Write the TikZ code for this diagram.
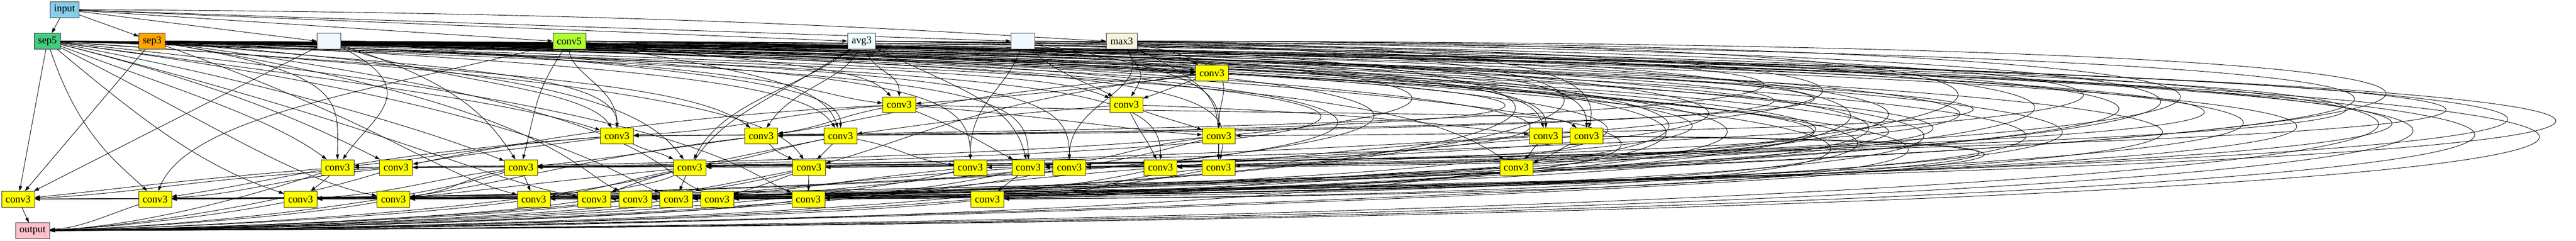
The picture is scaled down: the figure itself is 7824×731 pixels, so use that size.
\documentclass[tikz,border=0pt]{standalone}
\usepackage{fontspec}
\setmainfont{Liberation Serif}
\usetikzlibrary{shapes, arrows.meta, backgrounds}
\definecolor{cinput}{HTML}{87CEEB}
\definecolor{csepfive}{HTML}{43CD80}
\definecolor{csepthree}{HTML}{FFA500}
\definecolor{cconvfive}{HTML}{ADFF2F}
\definecolor{cavg}{HTML}{F0FFFF}
\definecolor{cskip}{HTML}{F0F8FF}
\definecolor{cmax}{HTML}{F5F5DC}
\definecolor{cconv}{HTML}{FFFF00}
\definecolor{coutput}{HTML}{FFC0CB}
\tikzstyle{box} = [rectangle, 
draw=black!80, 
line width=0.3pt, 
minimum height=0.48cm, 
inner sep=0pt, 
text centered, 
font=\fontsize{8.8}{10}\selectfont]
\tikzstyle{conv} = [box, minimum width=1cm, fill=cconv]
\tikzstyle{inbox} = [box, minimum width=0.88cm, fill=cinput]
\tikzstyle{outbox} = [box, minimum width=1.04cm, fill=coutput]
\tikzstyle{sepfive} = [box, minimum width=0.8cm, fill=csepfive]
\tikzstyle{septhree} = [box, minimum width=0.8cm, fill=csepthree]
\tikzstyle{convfive} = [box, minimum width=1cm, fill=cconvfive]
\tikzstyle{avgpool} = [box, minimum width=0.85cm, fill=cavg]
\tikzstyle{skip} = [box, minimum width=0.72cm, fill=cskip]
\tikzstyle{maxpool} = [box, minimum width=0.93cm, fill=cmax]
\tikzstyle{arrow} = [line width=0.4pt, -{Triangle[length=1.5mm, width=1mm]}]
\begin{document}
\begin{tikzpicture}[x=0.01cm, y=-0.01cm]
\useasboundingbox (0,0) rectangle (7824,731);

% input and first operations
\node (in) [inbox] at (196,29) {input};
\node (sepf) [sepfive] at (144,125) {sep5};
\node (sept) [septhree] at (462,125) {sep3};
\node (ida) [skip] at (999,125) {};
\node (convf) [convfive] at (1729,125) {conv5};
\node (avg) [avgpool] at (2617,125) {avg3};
\node (idb) [skip] at (3107,125) {};
\node (maxp) [maxpool] at (3407,125) {max3};

% conv3 layers
\node (c2a) [conv] at (3681,222) {conv3};
\node (c3a) [conv] at (2731,318) {conv3};
\node (c3b) [conv] at (3421,318) {conv3};
\node (c4a) [conv] at (1874,413) {conv3};
\node (c4b) [conv] at (2312,413) {conv3};
\node (c4c) [conv] at (2553,413) {conv3};
\node (c4d) [conv] at (3702,413) {conv3};
\node (c4e) [conv] at (4695,413) {conv3};
\node (c4f) [conv] at (4819,413) {conv3};
\node (c5a) [conv] at (1025,509) {conv3};
\node (c5b) [conv] at (1203,509) {conv3};
\node (c5c) [conv] at (1582,509) {conv3};
\node (c5d) [conv] at (2095,509) {conv3};
\node (c5e) [conv] at (2457,509) {conv3};
\node (c5f) [conv] at (2947,509) {conv3};
\node (c5g) [conv] at (3123,509) {conv3};
\node (c5h) [conv] at (3248,509) {conv3};
\node (c5i) [conv] at (3525,509) {conv3};
\node (c5j) [conv] at (3701,509) {conv3};
\node (c5k) [conv] at (4605,509) {conv3};
\node (c6a) [conv] at (55,605) {conv3};
\node (c6b) [conv] at (471,605) {conv3};
\node (c6c) [conv] at (913,605) {conv3};
\node (c6d) [conv] at (1195,605) {conv3};
\node (c6e) [conv] at (1621,605) {conv3};
\node (c6f) [conv] at (1805,605) {conv3};
\node (c6g) [conv] at (1930,605) {conv3};
\node (c6h) [conv] at (2054,605) {conv3};
\node (c6i) [conv] at (2178,605) {conv3};
\node (c6j) [conv] at (2455,605) {conv3};
\node (c6k) [conv] at (2999,605) {conv3};
\node (out) [outbox] at (99,701) {output};

\begin{scope}[on background layer]
% from input
\draw [arrow] (in) -- (sepf);
\draw [arrow] (in) -- (sept);
\draw [arrow] (in) -- (ida.west);
\draw [arrow] (in) -- (convf.west);
\draw [arrow] (in) -- (avg.west);
\draw [arrow] (in) -- (idb.west);
\draw [arrow] (in) .. controls +(2000,10) and +(-400,-20) .. (maxp.west);

% second and third layer
\draw [arrow] (maxp) to[out=-30, in=150] (c2a);
\draw [arrow] (idb) to[out=-15, in=170] (c2a);
\draw [arrow] (sepf) .. controls +(2800,50) and +(-400,-10) .. (c2a);
\draw [arrow] (sept) .. controls +(2600,45) and +(-400,0) .. (c2a);
\draw [arrow] (c2a) .. controls +(-300,40) and +(300,-20) .. (c3a);
\draw [arrow] (avg) .. controls +(40,100) and +(0,-100) .. (c3a);
\draw [arrow] (sept) .. controls +(2000,60) and +(-300,-30) .. (c3a);
\draw [arrow] (convf) .. controls +(800,80) and +(-100,-100) .. (c3a);
\draw [arrow] (c2a) -- (c3b);
\draw [arrow] (maxp) .. controls +(60,100) and +(60,-100) .. (c3b);
\draw [arrow] (idb) .. controls +(100,100) and +(-100,-60) .. (c3b);
\draw [arrow] (sepf) .. controls +(2900,80) and +(-200,-80) .. (c3b);

% fourth layer
\draw [arrow] (c3a) .. controls +(-400,30) and +(400,-20) .. (c4a);
\draw [arrow] (sepf) .. controls +(900,120) and +(-300,-100) .. (c4a);
\draw [arrow] (sept) .. controls +(800,80) and +(0,-200) .. (c4a);
\draw [arrow] (convf) .. controls +(0,100) and +(0,-150) .. (c4a);
\draw [arrow] (ida) .. controls +(300,120) and +(-100,-150) .. (c4a);
\draw [arrow] (c3a) .. controls +(-200,40) and +(200,-30) .. (c4b);
\draw [arrow] (sepf) .. controls +(1500,100) and +(-200,-150) .. (c4b);
\draw [arrow] (avg) .. controls +(-50,120) and +(100,-150) .. (c4b);
\draw [arrow] (c2a) .. controls +(-800,60) and +(300,-40) .. (c4b);
\draw [arrow] (c3b) .. controls +(-500,40) and +(300,-40) .. (c4c);
\draw [arrow] (convf) .. controls +(600,100) and +(-50,-150) .. (c4c);
\draw [arrow] (sept) .. controls +(1600,80) and +(-100,-150) .. (c4c);
\draw [arrow] (ida) .. controls +(1200,90) and +(0,-150) .. (c4c);
\draw [arrow] (c3b) to[out=-20, in=160] (c4d);
\draw [arrow] (maxp) .. controls +(400,80) and +(0,-150) .. (c4d);
\draw [arrow] (c3a) .. controls +(500,40) and +(-300,-20) .. (c4d);
\draw [arrow] (idb) .. controls +(500,90) and +(0,-150) .. (c4d);
\draw [arrow] (c3b) .. controls +(800,30) and +(-300,-30) .. (c4e);
\draw [arrow] (sepf) .. controls +(4000,60) and +(0,-180) .. (c4e);
\draw [arrow] (sept) .. controls +(3800,55) and +(-50,-180) .. (c4e);
\draw [arrow] (c3a) .. controls +(1500,40) and +(-100,-80) .. (c4f);
\draw [arrow] (convf) .. controls +(2700,50) and +(0,-200) .. (c4f);
\draw [arrow] (maxp) .. controls +(1200,20) and +(50,-200) .. (c4f);

% fifth layer
\draw [arrow] (c4a) .. controls +(-400,30) and +(300,-30) .. (c5a);
\draw [arrow] (sepf) .. controls +(400,150) and +(-200,-150) .. (c5a);
\draw [arrow] (ida) .. controls +(300,150) and +(100,-150) .. (c5a);
\draw [arrow] (sept) .. controls +(600,100) and +(0,-200) .. (c5a);
\draw [arrow] (c4a) .. controls +(-300,40) and +(200,-40) .. (c5b);
\draw [arrow] (sepf) .. controls +(600,150) and +(-200,-100) .. (c5b);
\draw [arrow] (c3a) .. controls +(-800,40) and +(300,-60) .. (c5b);
\draw [arrow] (c4b) .. controls +(-300,40) and +(300,-30) .. (c5c);
\draw [arrow] (sepf) .. controls +(800,150) and +(-200,-80) .. (c5c);
\draw [arrow] (convf) .. controls +(-100,150) and +(50,-200) .. (c5c);
\draw [arrow] (ida) .. controls +(400,130) and +(-100,-150) .. (c5c);
\draw [arrow] (c4a) .. controls +(100,50) and +(-100,-50) .. (c5d);
\draw [arrow] (c4c) .. controls +(-200,40) and +(200,-30) .. (c5d);
\draw [arrow] (sept) .. controls +(1200,100) and +(-150,-200) .. (c5d);
\draw [arrow] (avg) .. controls +(-200,150) and +(100,-200) .. (c5d);
\draw [arrow] (c4b) .. controls +(50,50) and +(-100,-50) .. (c5e);
\draw [arrow] (c4c) -- (c5e);
\draw [arrow] (sepf) .. controls +(1900,120) and +(-100,-150) .. (c5e);
\draw [arrow] (c2a) .. controls +(-700,80) and +(300,-80) .. (c5e);
\draw [arrow] (c4c) .. controls +(200,40) and +(-200,-30) .. (c5f);
\draw [arrow] (sept) .. controls +(2300,80) and +(0,-250) .. (c5f);
\draw [arrow] (idb) .. controls +(-50,150) and +(0,-200) .. (c5f);
\draw [arrow] (c4d) .. controls +(-300,40) and +(300,-30) .. (c5g);
\draw [arrow] (sepf) .. controls +(2800,90) and +(0,-250) .. (c5g);
\draw [arrow] (c3a) .. controls +(200,80) and +(-150,-80) .. (c5g);
\draw [arrow] (avg) .. controls +(300,150) and +(-50,-200) .. (c5g);
\draw [arrow] (c4d) .. controls +(-200,50) and +(200,-30) .. (c5h);
\draw [arrow] (sept) .. controls +(2600,90) and +(0,-250) .. (c5h);
\draw [arrow] (maxp) .. controls +(100,150) and +(0,-200) .. (c5h);
\draw [arrow] (c4e) .. controls +(-500,30) and +(400,-30) .. (c5i);
\draw [arrow] (sepf) .. controls +(3100,90) and +(0,-250) .. (c5i);
\draw [arrow] (c3b) .. controls +(50,100) and +(-50,-100) .. (c5i);
\draw [arrow] (c4d) -- (c5j);
\draw [arrow] (c4f) .. controls +(-500,30) and +(400,-30) .. (c5j);
\draw [arrow] (sept) .. controls +(3200,70) and +(50,-250) .. (c5j);
\draw [arrow] (maxp) .. controls +(300,150) and +(0,-200) .. (c5j);
\draw [arrow] (c4e) .. controls +(-50,50) and +(50,-50) .. (c5k);
\draw [arrow] (c4f) .. controls +(-100,50) and +(100,-30) .. (c5k);
\draw [arrow] (sepf) .. controls +(3700,80) and +(-300,-200) .. (c5k);

% sixth layer
\draw [arrow] (c5a) .. controls +(-500,40) and +(300,-30) .. (c6a);
\draw [arrow] (sepf) -- (c6a);
\draw [arrow] (sept) -- (c6a);
\draw [arrow] (ida) -- (c6a);
\draw [arrow] (c5b) .. controls +(-600,30) and +(400,-20) .. (c6a);
\draw [arrow] (c5b) .. controls +(-400,40) and +(300,-20) .. (c6b);
\draw [arrow] (sepf) .. controls +(100,300) and +(-100,-100) .. (c6b);
\draw [arrow] (convf) .. controls +(-600,150) and +(100,-250) .. (c6b);
\draw [arrow] (c4a) .. controls +(-800,60) and +(400,-60) .. (c6b);
\draw [arrow] (c5a) .. controls +(-50,50) and +(50,-40) .. (c6c);
\draw [arrow] (c5c) .. controls +(-300,40) and +(300,-20) .. (c6c);
\draw [arrow] (sepf) .. controls +(300,250) and +(-300,-100) .. (c6c);
\draw [arrow] (c5c) .. controls +(-200,40) and +(200,-30) .. (c6d);
\draw [arrow] (sepf) .. controls +(500,250) and +(-300,-60) .. (c6d);
\draw [arrow] (c4b) .. controls +(-500,60) and +(400,-60) .. (c6d);
\draw [arrow] (c5d) .. controls +(-400,40) and +(300,-30) .. (c6d);
\draw [arrow] (c5d) .. controls +(-200,40) and +(200,-30) .. (c6e);
\draw [arrow] (c5c) -- (c6e);
\draw [arrow] (sept) .. controls +(700,250) and +(-300,-80) .. (c6e);
\draw [arrow] (c5d) .. controls +(-100,50) and +(100,-40) .. (c6f);
\draw [arrow] (sepf) .. controls +(1000,250) and +(-300,-50) .. (c6f);
\draw [arrow] (c4c) .. controls +(-400,80) and +(200,-80) .. (c6f);
\draw [arrow] (c5e) .. controls +(-200,40) and +(200,-30) .. (c6g);
\draw [arrow] (c5g) .. controls +(-600,40) and +(500,-30) .. (c6g);
\draw [arrow] (sept) .. controls +(1200,200) and +(-200,-100) .. (c6g);
\draw [arrow] (c5f) .. controls +(-400,40) and +(400,-30) .. (c6h);
\draw [arrow] (sepf) .. controls +(1500,200) and +(-200,-80) .. (c6h);
\draw [arrow] (avg) .. controls +(-300,200) and +(100,-250) .. (c6h);
\draw [arrow] (c5e) .. controls +(-100,40) and +(100,-30) .. (c6i);
\draw [arrow] (c5h) .. controls +(-500,40) and +(400,-30) .. (c6i);
\draw [arrow] (sept) .. controls +(1500,200) and +(-200,-100) .. (c6i);
\draw [arrow] (c5e) -- (c6j);
\draw [arrow] (c5i) .. controls +(-500,40) and +(400,-30) .. (c6j);
\draw [arrow] (sepf) .. controls +(2000,200) and +(-200,-80) .. (c6j);
\draw [arrow] (c5g) -- (c6k);
\draw [arrow] (c5j) .. controls +(-400,40) and +(400,-20) .. (c6k);
\draw [arrow] (c5k) .. controls +(-800,30) and +(800,-20) .. (c6k);

% long edges round the right side
\draw [arrow] (sepf) .. controls +(10200,40) and +(10200,-30) .. (c6a);
\draw [arrow] (sept) .. controls +(9789,40) and +(9789,-30) .. (c6a);
\draw [arrow] (sepf) .. controls +(9087,40) and +(9087,-30) .. (c5a);
\draw [arrow] (sepf) .. controls +(9256,40) and +(9256,-30) .. (c6b);
\draw [arrow] (sept) .. controls +(8356,40) and +(8356,-30) .. (c5b);
\draw [arrow] (sepf) .. controls +(8561,40) and +(8561,-30) .. (c6c);
\draw [arrow] (ida) .. controls +(7604,40) and +(7604,-30) .. (c6d);
\draw [arrow] (sept) .. controls +(7504,40) and +(7504,-30) .. (c5c);
\draw [arrow] (sepf) .. controls +(7489,40) and +(7489,-30) .. (c6e);
\draw [arrow] (convf) .. controls +(7277,40) and +(7277,-30) .. (c6a);
\draw [arrow] (sept) .. controls +(6755,40) and +(6755,-30) .. (c6f);
\draw [arrow] (sepf) .. controls +(6684,40) and +(6684,-30) .. (c6g);
\draw [arrow] (ida) .. controls +(5804,40) and +(5804,-30) .. (c5d);
\draw [arrow] (sept) .. controls +(5989,40) and +(5989,-30) .. (c6h);
\draw [arrow] (sepf) .. controls +(10104,40) and +(10104,-30) .. (out);
\draw [arrow] (sept) .. controls +(9627,40) and +(9627,-30) .. (out);
\draw [arrow] (ida) .. controls +(9001,40) and +(9001,-30) .. (out);
\draw [arrow] (convf) .. controls +(8315,40) and +(8315,-30) .. (out);
\draw [arrow] (avg) .. controls +(4269,40) and +(4269,-30) .. (c6i);
\draw [arrow] (sepf) .. controls +(5533,40) and +(5533,-30) .. (c6j);
\draw [arrow] (sept) .. controls +(4759,40) and +(4759,-30) .. (c6k);
\draw [arrow] (convf) .. controls +(4076,40) and +(4076,-30) .. (c5e);
\draw [arrow] (maxp) .. controls +(6748,5) and +(6748,-30) .. (c6b);
\draw [arrow] (maxp) .. controls +(4564,5) and +(4564,-30) .. (c5f);
\draw [arrow] (idb) .. controls +(5853,40) and +(5853,-30) .. (c6c);
\draw [arrow] (avg) .. controls +(5592,40) and +(5592,-30) .. (c6d);
\draw [arrow] (maxp) .. controls +(4381,5) and +(4381,-30) .. (c6e);
\draw [arrow] (sepf) .. controls +(5221,40) and +(5221,-30) .. (c5g);
\draw [arrow] (sept) .. controls +(4475,40) and +(4475,-30) .. (c5i);
\draw [arrow] (ida) .. controls +(4980,40) and +(4980,-30) .. (c6g);
\draw [arrow] (convf) .. controls +(4211,40) and +(4211,-30) .. (c6h);
\draw [arrow] (avg) .. controls +(5787,40) and +(5787,-30) .. (c5b);
\draw [arrow] (idb) .. controls +(7092,40) and +(7092,-30) .. (c6a);
\draw [arrow] (sepf) .. controls +(5855,40) and +(5855,-30) .. (c4a);
\draw [arrow] (sept) .. controls +(5151,40) and +(5151,-30) .. (c4b);
\draw [arrow] (sepf) .. controls +(4368,45) and +(4368,-30) .. (c5b);
\draw [arrow] (sept) .. controls +(4778,45) and +(4778,-30) .. (c6b);
\draw [arrow] (ida) .. controls +(4553,45) and +(4553,-30) .. (c6b);
\draw [arrow] (convf) .. controls +(3831,45) and +(3831,-30) .. (c5a);
\draw [arrow] (sepf) .. controls +(4163,45) and +(4163,-30) .. (c4b);
\draw [arrow] (sept) .. controls +(3987,45) and +(3987,-30) .. (c5e);
\draw [arrow] (avg) .. controls +(3119,45) and +(3119,-30) .. (c6f);
\draw [arrow] (idb) .. controls +(2842,45) and +(2842,-30) .. (c6g);
\draw [arrow] (sepf) .. controls +(4785,45) and +(4785,-30) .. (c6i);
\draw [arrow] (sept) .. controls +(5362,45) and +(5362,-30) .. (c6d);
\draw [arrow] (ida) .. controls +(3969,45) and +(3969,-30) .. (c5f);
\draw [arrow] (convf) .. controls +(3904,45) and +(3904,-30) .. (c6j);
\draw [arrow] (sepf) .. controls +(4565,45) and +(4565,-30) .. (c5h);
\draw [arrow] (sept) .. controls +(4570,45) and +(4570,-30) .. (c5g);
\draw [arrow] (avg) .. controls +(4099,45) and +(4099,-30) .. (c4a);
\draw [arrow] (idb) .. controls +(4100,45) and +(4100,-30) .. (c5c);
\draw [arrow] (sepf) .. controls +(5237,45) and +(5237,-30) .. (c6k);
\draw [arrow] (sept) .. controls +(4664,45) and +(4664,-30) .. (c4d);
\draw [arrow] (ida) .. controls +(5787,45) and +(5787,-30) .. (c6e);
\draw [arrow] (convf) .. controls +(5839,45) and +(5839,-30) .. (c6c);
\draw [arrow] (c4e) .. controls +(3604,30) and +(3604,-20) .. (out);
\draw [arrow] (c4f) .. controls +(3388,30) and +(3388,-20) .. (out);

% into output
\draw [arrow] (c6a) -- (out);
\draw [arrow] (c6b) .. controls +(-150,50) and +(150,-10) .. (out);
\draw [arrow] (c6c) .. controls +(-250,50) and +(250,-10) .. (out);
\draw [arrow] (c6d) .. controls +(-300,55) and +(300,-8) .. (out);
\draw [arrow] (c6e) .. controls +(-400,55) and +(400,-8) .. (out);
\draw [arrow] (c6f) .. controls +(-400,60) and +(500,-6) .. (out);
\draw [arrow] (c6g) .. controls +(-450,60) and +(500,-6) .. (out);
\draw [arrow] (c6h) .. controls +(-450,60) and +(550,-5) .. (out);
\draw [arrow] (c6i) .. controls +(-500,60) and +(550,-5) .. (out);
\draw [arrow] (c6j) .. controls +(-500,65) and +(600,-4) .. (out);
\draw [arrow] (c6k) .. controls +(-600,65) and +(800,-4) .. (out);
\draw [arrow] (c5a) .. controls +(-300,100) and +(300,-12) .. (out);
\draw [arrow] (c5b) .. controls +(-350,110) and +(300,-12) .. (out);
\draw [arrow] (c5c) .. controls +(-400,120) and +(400,-10) .. (out);
\draw [arrow] (c5d) .. controls +(-500,130) and +(500,-10) .. (out);
\draw [arrow] (c5e) .. controls +(-500,140) and +(600,-8) .. (out);
\draw [arrow] (c5f) .. controls +(-600,150) and +(700,-8) .. (out);
\draw [arrow] (c5g) .. controls +(-600,150) and +(700,-6) .. (out);
\draw [arrow] (c5h) .. controls +(-700,150) and +(800,-6) .. (out);
\draw [arrow] (c5i) .. controls +(-700,160) and +(800,-4) .. (out);
\draw [arrow] (c5j) .. controls +(-800,160) and +(900,-4) .. (out);
\draw [arrow] (c5k) .. controls +(-1000,160) and +(1000,-2) .. (out);
\end{scope}

\end{tikzpicture}
\end{document}
